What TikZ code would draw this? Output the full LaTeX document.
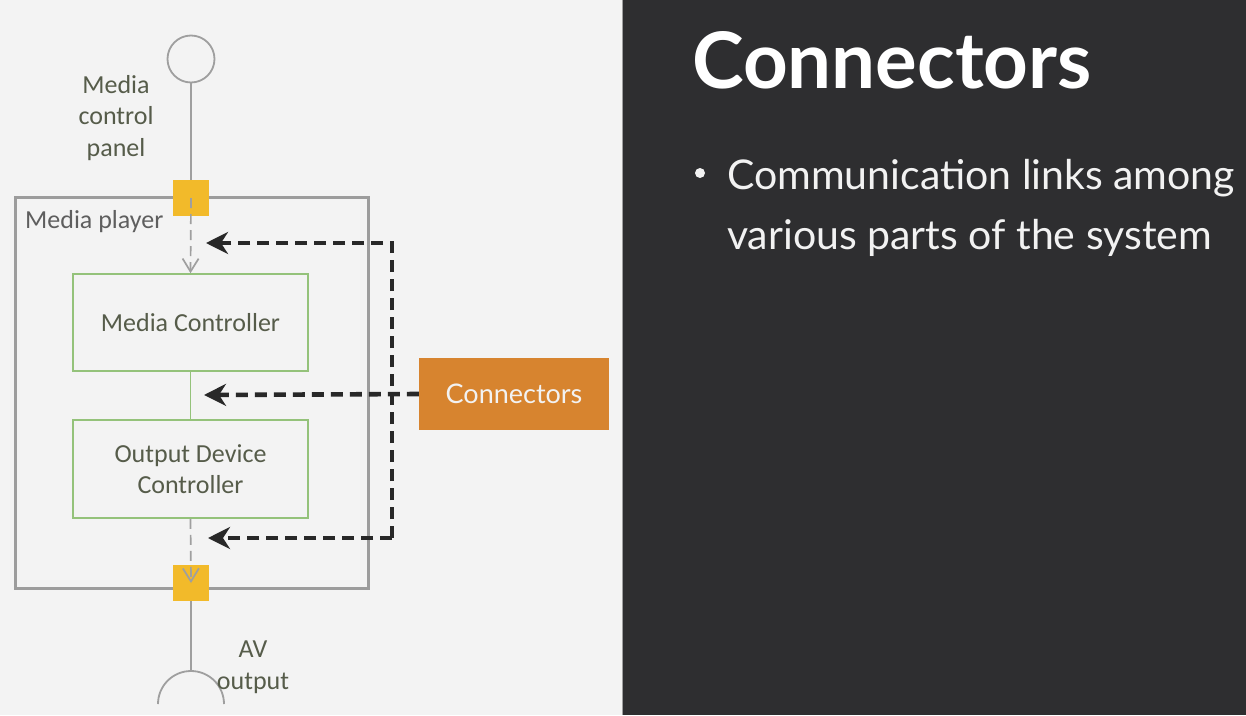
\documentclass[tikz,border=0pt]{standalone}
\usepackage{fontspec}
\setmainfont{Carlito}
\newfontfamily\lato{Lato}
\usetikzlibrary{arrows.meta}

\definecolor{paper}{HTML}{F3F3F3}
\definecolor{slate}{HTML}{2E2E30}
\definecolor{wire}{HTML}{9F9F9F}
\definecolor{frame}{HTML}{9C9C9C}
\definecolor{leaf}{HTML}{94C27A}
\definecolor{ink}{HTML}{565C4A}
\definecolor{plain}{HTML}{5E5E5E}
\definecolor{port}{HTML}{F2BA2A}
\definecolor{amber}{HTML}{D7842F}
\definecolor{link}{HTML}{282828}
\definecolor{chalk}{HTML}{F2F2F2}

\tikzset{
  wireline/.style={draw=wire, line width=1.8pt},
  wiredash/.style={draw=wire, line width=1.7pt, dash pattern=on 10pt off 6pt,
    -{Straight Barb[length=13pt,width=16pt,line width=1.7pt]}},
  portbox/.style={fill=port, minimum size=36pt, inner sep=0pt},
  compbox/.style={draw=leaf, line width=1.6pt, fill=paper, minimum width=235pt,
    inner sep=0pt, text=ink, align=center, font=\fontsize{26}{31}\selectfont},
  lbl/.style={text=ink, align=center, inner sep=0pt, font=\fontsize{26}{31.5}\selectfont},
  conn/.style={draw=link, line width=4.6pt, dash pattern=on 12pt off 7pt},
  connarrow/.style={conn, -{Stealth[length=22pt,width=22pt,inset=7pt]}},
}

\begin{document}
\begin{tikzpicture}[x=1pt,y=-1pt]
\useasboundingbox (0,0) rectangle (1246,715);

% two halves of the slide
\fill[paper] (0,0) rectangle (623,715);
\fill[slate] (623,0) rectangle (1246,715);
\draw[wire, line width=1.5pt] (622.5,0) -- (622.5,715);

% outer component frame
\node[draw=frame, line width=3pt, minimum width=353pt, minimum height=391pt,
      inner sep=0pt, anchor=north west] (player) at (14,196) {};
\node[anchor=base west, inner sep=0pt, text=plain,
      font=\fontsize{26}{31}\selectfont] (playerlbl) at (25,228) {Media player};

% provided interface and its label
\node[circle, draw=wire, line width=1.8pt, fill=paper, minimum size=47pt, inner sep=0pt]
      (panel) at (191,59) {};
\node[lbl] (panellbl) at (116,118) {Media\\control\\panel};

% ports on the frame
\node[portbox] (pin) at (191,198) {};
\node[portbox] (pout) at (191,583) {};

% inner components
\node[compbox, minimum height=97pt] (mc) at (190.5,322.5) {Media Controller};
\node[compbox, minimum height=98pt] (odc) at (190.5,469) {Output Device\\Controller};

% required interface (socket) and its label
\coordinate (plug) at (191,671);
\draw[wireline] (158,704) arc[start angle=180, end angle=0, radius=33pt];
\node[lbl] (avlbl) at (253,667) {AV\\output};

% wires between parts
\draw[wireline] (panel.south) -- (pin.north);
\draw[wireline] (pout.south) -- (plug);
\draw[draw=leaf, line width=1.8pt] (mc.south) -- (odc.north);
\draw[wiredash] (pin.center) -- (mc.north);
\draw[wiredash] (odc.south) -- (pout.center);

% callout box
\node[fill=amber, minimum width=190pt, minimum height=72pt, inner sep=0pt,
      text=chalk, font=\lato\fontsize{27}{30}\selectfont] (callout) at (514,394) {Connectors};

% dashed pointers from the callout
\coordinate (jt) at (392,243);
\coordinate (jb) at (392,538);
\coordinate (tt) at (206,243);
\coordinate (tm) at (204,395);
\coordinate (tb) at (208,538);
\draw[connarrow] (jb) -- (jt) -- (tt);
\draw[connarrow] (callout.west) -- (tm);
\draw[connarrow] (jb) -- (tb);

% slide text
\node[anchor=base west, inner sep=0pt, text=white,
      font=\lato\bfseries\fontsize{78}{80}\selectfont] (title) at (692,88) {Connectors};
\node[circle, fill=chalk, minimum size=10pt, inner sep=0pt] (dot) at (700,173) {};
\node[anchor=base west, inner sep=0pt, text=chalk,
      font=\lato\fontsize{41}{60}\selectfont] (line1) at (727,189) {Communication links among};
\node[anchor=base west, inner sep=0pt, text=chalk,
      font=\lato\fontsize{41}{60}\selectfont] (line2) at (727,249) {various parts of the system};
\end{tikzpicture}
\end{document}
